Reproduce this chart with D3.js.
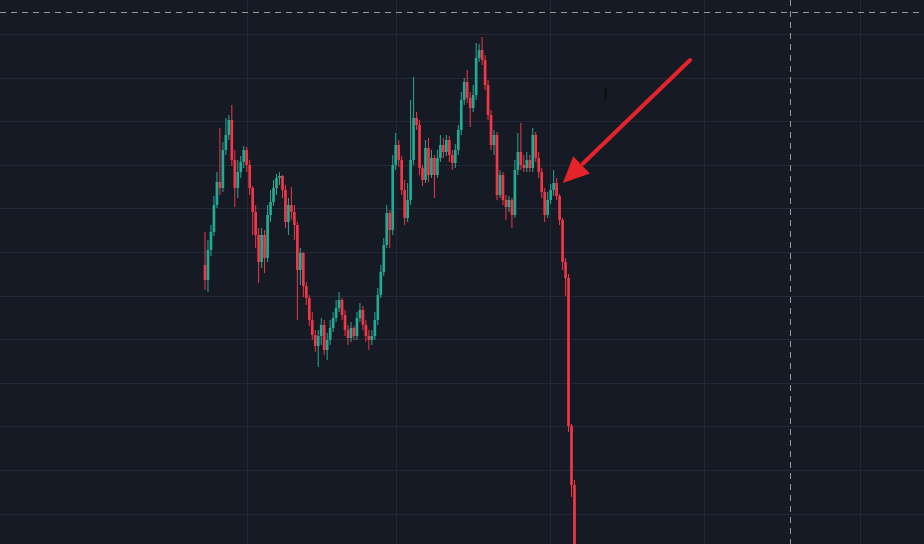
<!DOCTYPE html>
<html><head><meta charset="utf-8">
<script src="https://cdn.jsdelivr.net/npm/d3@7"></script>
<style>html,body{margin:0;padding:0;background:#161a25;overflow:hidden}</style>
</head><body><svg id="chart" width="924" height="544"></svg>
<script>
// Candle OHLC values (index = bar number)
const open = [37.9,
 36.4, 39.4, 41.2, 43.9, 46.2, 45.6, 49.4, 50.9, 52.4, 48.4,
 45.6, 47.2, 48.2, 49.4, 47.9, 45.6, 43.2, 40.9, 38.2, 40.9,
 38.6, 42.9, 44.2, 45.6, 46.6, 46.8, 45.4, 42.2, 43.9, 43.2,
 41.9, 37.4, 39.1, 35.8, 34.6, 32.4, 30.9, 29.8, 30.8, 31.9,
 29.4, 30.4, 31.6, 32.6, 33.6, 34.4, 32.9, 31.4, 30.6, 31.6,
 30.8, 32.6, 33.4, 31.9, 30.8, 30.4, 30.8, 32.4, 34.9, 37.2,
 39.9, 43.1, 41.4, 47.9, 49.9, 48.4, 45.4, 42.6, 44.4, 48.4,
 52.6, 51.9, 47.6, 46.4, 49.6, 46.9, 48.6, 46.9, 48.6, 49.9,
 49.2, 50.4, 48.9, 48.1, 49.4, 51.4, 54.4, 56.2, 54.6, 53.6,
 54.9, 58.6, 59.4, 58.4, 55.9, 52.9, 49.9, 50.9, 44.9, 46.9,
 44.4, 43.7, 44.4, 42.9, 47.4, 49.2, 47.9, 47.6, 48.4, 47.6,
 50.9, 48.6, 47.2, 45.2, 42.9, 44.4, 45.4, 46.1, 44.8, 42.4,
 38.2, 36.6, 21.8, 15.9];
const high = [
 41.2, 40.4, 41.9, 44.8, 47.2, 51.6, 50.2, 52.6, 52.9, 53.9,
 49.4, 48.4, 48.8, 49.8, 49.7, 48.4, 45.8, 43.9, 41.6, 41.6,
 41.4, 43.9, 45.4, 46.4, 47.0, 47.2, 46.9, 45.9, 44.6, 45.7,
 43.9, 42.2, 39.6, 39.2, 36.2, 34.9, 33.2, 31.4, 31.4, 32.6,
 32.4, 31.1, 32.4, 33.2, 34.4, 35.2, 34.6, 33.4, 31.9, 32.2,
 31.8, 33.2, 34.1, 33.8, 32.4, 31.4, 31.4, 33.2, 35.6, 37.9,
 40.6, 43.9, 43.4, 48.9, 51.1, 50.4, 48.8, 46.4, 46.1, 54.4,
 56.7, 53.2, 52.4, 47.9, 50.4, 50.6, 49.4, 48.9, 49.4, 50.9,
 50.6, 50.9, 50.8, 49.4, 50.0, 51.9, 55.2, 56.6, 57.4, 55.2,
 55.9, 60.1, 60.0, 60.7, 58.9, 56.4, 53.4, 51.4, 51.2, 47.4,
 47.2, 44.9, 44.8, 44.6, 48.4, 51.1, 52.1, 48.9, 49.2, 48.9,
 51.6, 51.2, 49.2, 47.6, 45.6, 45.2, 46.0, 47.4, 46.6, 45.0,
 42.6, 38.6, 37.0, 22.0, 16.4];
const low = [
 35.4, 35.2, 38.8, 40.8, 43.6, 44.9, 45.2, 48.9, 50.4, 47.8,
 43.7, 44.6, 46.6, 47.6, 47.2, 44.9, 40.9, 39.6, 36.1, 37.6,
 37.1, 38.2, 42.2, 43.8, 44.9, 45.9, 44.6, 41.6, 40.9, 42.4,
 40.4, 32.4, 35.9, 34.7, 33.9, 31.8, 30.4, 29.2, 27.7, 29.9,
 28.9, 28.4, 29.9, 31.2, 32.2, 33.2, 32.4, 30.8, 29.9, 30.2,
 30.4, 30.4, 32.2, 31.4, 30.2, 29.4, 29.9, 30.4, 31.9, 34.6,
 36.8, 39.6, 39.6, 40.9, 47.4, 47.7, 44.9, 41.9, 42.2, 43.9,
 47.9, 51.4, 46.9, 45.8, 46.1, 46.2, 46.6, 44.6, 46.6, 48.2,
 48.6, 48.8, 48.2, 47.4, 47.6, 48.9, 50.9, 53.9, 54.1, 51.7,
 53.2, 54.4, 58.2, 57.9, 55.4, 52.4, 49.4, 48.9, 44.4, 44.6,
 43.9, 42.4, 43.2, 41.6, 42.6, 46.9, 47.4, 47.2, 47.2, 47.2,
 47.2, 48.2, 46.6, 44.6, 42.2, 42.6, 44.0, 44.8, 44.4, 41.9,
 37.4, 34.8, 21.2, 14.7, 3.4];
const close = [
 36.4, 39.4, 41.2, 43.9, 46.2, 45.6, 49.4, 50.9, 52.4, 48.4,
 45.6, 47.2, 48.2, 49.4, 47.9, 45.6, 43.2, 40.9, 38.2, 40.9,
 38.6, 42.9, 44.2, 45.6, 46.6, 46.8, 45.4, 42.2, 43.9, 43.2,
 41.9, 37.4, 39.1, 35.8, 34.6, 32.4, 30.9, 29.8, 30.8, 31.9,
 29.4, 30.4, 31.6, 32.6, 33.6, 34.4, 32.9, 31.4, 30.6, 31.6,
 30.8, 32.6, 33.4, 31.9, 30.8, 30.4, 30.8, 32.4, 34.9, 37.2,
 39.9, 43.1, 41.4, 47.9, 49.9, 48.4, 45.4, 42.6, 44.4, 48.4,
 52.6, 51.9, 47.6, 46.4, 49.6, 46.9, 48.6, 46.9, 48.6, 49.9,
 49.2, 50.4, 48.9, 48.1, 49.4, 51.4, 54.4, 56.2, 54.6, 53.6,
 54.9, 58.6, 59.4, 58.4, 55.9, 52.9, 49.9, 50.9, 44.9, 46.9,
 44.4, 43.7, 44.4, 42.9, 47.4, 49.2, 47.9, 47.6, 48.4, 47.6,
 50.9, 48.6, 47.2, 45.2, 42.9, 44.4, 45.4, 46.1, 44.8, 42.4,
 38.2, 36.6, 21.8, 15.9, 4.4];

// Grid / crosshair tick values
const gridPrices = [61.0, 56.64, 52.28, 47.92, 43.56, 39.2, 34.84, 30.48, 26.12, 21.76, 17.4, 13.04];
const gridTimes = [14.1, 64.1, 115.8, 167.4, 219.8];
const crosshairPrice = 63.2;
const crosshairTime = 196.3;
// Annotation arrow (bar index, price)
const arrowFrom = [162.8, 58.4];
const arrowTo = [120.1, 46.1];
const markPoint = [134.1, 55.6];

const W = 924, H = 544;
const UP = "#22ab94", DOWN = "#f23645";
const svg = d3.select("#chart");
const x = d3.scaleLinear().domain([-68.8, 241.3]).range([0, W]);
const y = d3.scaleLinear().domain([10.0, 64.4]).range([H, 0]);

svg.append("rect").attr("width", W).attr("height", H).attr("fill", "#161a25");

const grid = svg.append("g").attr("stroke", "#242834").attr("stroke-width", 1);
grid.selectAll("line.h").data(gridPrices).join("line").attr("class", "h")
  .attr("x1", 0).attr("x2", W)
  .attr("y1", d => Math.round(y(d)) + 0.5).attr("y2", d => Math.round(y(d)) + 0.5);
grid.selectAll("line.v").data(gridTimes).join("line").attr("class", "v")
  .attr("y1", 0).attr("y2", H)
  .attr("x1", d => Math.round(x(d)) + 0.5).attr("x2", d => Math.round(x(d)) + 0.5);

// crosshair
const ch = svg.append("g").attr("stroke", "#9598a1").attr("stroke-width", 1).attr("stroke-dasharray", "6,5");
ch.append("line").attr("x1", 0).attr("x2", W)
  .attr("y1", Math.round(y(crosshairPrice)) + 0.5).attr("y2", Math.round(y(crosshairPrice)) + 0.5);
ch.append("line").attr("y1", 0).attr("y2", H)
  .attr("x1", Math.round(x(crosshairTime)) + 0.5).attr("x2", Math.round(x(crosshairTime)) + 0.5);

// candles
const bars = close.map((c, i) => ({i, o: open[i], h: high[i], l: low[i], c}));
const bw = (x(1) - x(0)) * 0.9;
const cg = svg.append("g");
cg.selectAll("line.wick").data(bars).join("line").attr("class", "wick")
  .attr("x1", d => x(d.i)).attr("x2", d => x(d.i))
  .attr("y1", d => y(d.h)).attr("y2", d => y(d.l))
  .attr("stroke", d => d.c >= d.o ? UP : DOWN).attr("stroke-width", 1);
cg.selectAll("rect.body").data(bars).join("rect").attr("class", "body")
  .attr("x", d => x(d.i) - bw / 2).attr("width", bw)
  .attr("y", d => y(Math.max(d.o, d.c)))
  .attr("height", d => Math.max(1, Math.abs(y(d.o) - y(d.c))))
  .attr("fill", d => d.c >= d.o ? UP : DOWN);

// small mark
svg.append("rect").attr("x", x(markPoint[0])).attr("y", y(markPoint[1]))
  .attr("width", 2).attr("height", 12).attr("fill", "#0c0e0b");

// arrow
const ax1 = x(arrowFrom[0]), ay1 = y(arrowFrom[1]);
const ax2 = x(arrowTo[0]), ay2 = y(arrowTo[1]);
const dx = ax1 - ax2, dy = ay1 - ay2, len = Math.hypot(dx, dy);
const ux = dx / len, uy = dy / len, px = -uy, py = ux;
const headLen = 26, headHalf = 12;
const bx = ax2 + ux * headLen, by = ay2 + uy * headLen;
const ARROW = "#e5232a";
svg.append("line").attr("x1", ax1).attr("y1", ay1).attr("x2", bx + ux * 2).attr("y2", by + uy * 2)
  .attr("stroke", ARROW).attr("stroke-width", 4).attr("stroke-linecap", "round");
svg.append("path")
  .attr("d", `M${ax2},${ay2}L${bx + px * headHalf},${by + py * headHalf}L${bx - px * headHalf},${by - py * headHalf}Z`)
  .attr("fill", ARROW);
</script></body></html>
